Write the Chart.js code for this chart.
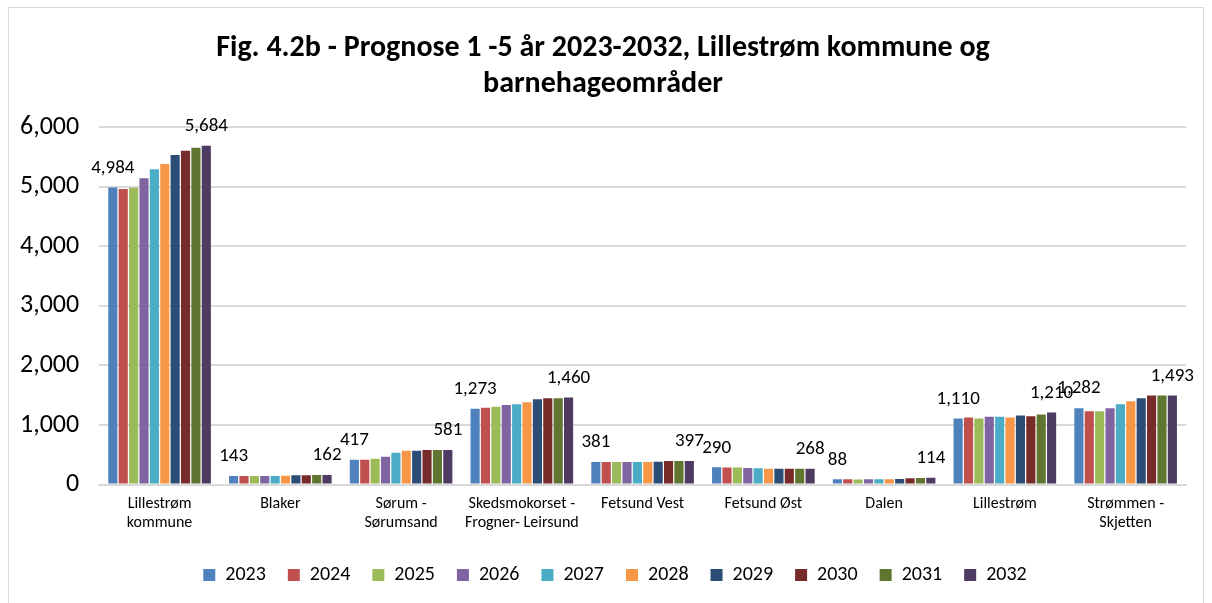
<!DOCTYPE html>
<html>
<head>
<meta charset="utf-8">
<script src="https://cdn.jsdelivr.net/npm/chart.js@4.4.0/dist/chart.umd.min.js"></script>
<style>
  html, body { margin: 0; padding: 0; background: #fff; }
  #ramme { position: absolute; left: 8px; top: 7px; width: 1196px; height: 610px; border: 1px solid #d9d9d9; box-sizing: border-box; }
  #boks { position: absolute; left: 0; top: 0; width: 1212px; height: 603px; }
</style>
</head>
<body>
<div id="ramme"></div>
<div id="boks"><canvas id="graf"></canvas></div>
<script>
// kategorier og år
const omrader = [
  ["Lillestrøm", "kommune"], "Blaker", ["Sørum -", "Sørumsand"],
  ["Skedsmokorset -", "Frogner- Leirsund"], "Fetsund Vest", "Fetsund Øst",
  "Dalen", "Lillestrøm", ["Strømmen -", "Skjetten"]
];
const aar = ["2023", "2024", "2025", "2026", "2027", "2028", "2029", "2030", "2031", "2032"];
const yTicks = [0, 1000, 2000, 3000, 4000, 5000, 6000];

// verdier per område, ett tall per år (2023..2032)
const lillestromKommune = [4984, 4960, 4980, 5140, 5290, 5380, 5530, 5600, 5650, 5684];
const blaker            = [143, 143, 143, 143, 143, 150, 155, 157, 160, 162];
const sorum             = [417, 417, 434, 467, 535, 568, 568, 581, 581, 581];
const skedsmokorset     = [1273, 1290, 1305, 1335, 1350, 1380, 1430, 1450, 1450, 1460];
const fetsundVest       = [381, 381, 380, 380, 380, 381, 382, 395, 395, 397];
const fetsundOst        = [290, 289, 288, 278, 276, 268, 266, 265, 266, 268];
const dalen             = [88, 88, 87, 88, 88, 88, 92, 108, 110, 114];
const lillestrom        = [1110, 1125, 1110, 1140, 1140, 1125, 1160, 1145, 1175, 1210];
const strommen          = [1282, 1232, 1232, 1282, 1350, 1400, 1450, 1493, 1493, 1493];

const farger = ["#4F81BD", "#C0504D", "#9BBB59", "#8064A2", "#4BACC6",
                "#F79646", "#2C4D75", "#772C2A", "#5F7530", "#4D3B62"];

const rader = [lillestromKommune, blaker, sorum, skedsmokorset, fetsundVest,
               fetsundOst, dalen, lillestrom, strommen];

const FONT = "Carlito, Lato, 'Liberation Sans', sans-serif";
const tall = v => v.toLocaleString("en-US");

// datasett: ett per år
const datasett = aar.map((a, i) => ({
  label: a,
  data: rader.map(r => r[i]),
  backgroundColor: farger[i],
  borderWidth: 0,
  categoryPercentage: 0.86,
  barPercentage: 0.88
}));

// etiketter bare for første og siste år
const etiketter = {
  id: "etiketter",
  afterDatasetsDraw(chart) {
    const ctx = chart.ctx;
    ctx.save();
    ctx.font = "19px " + FONT;
    ctx.fillStyle = "#000";
    ctx.textAlign = "center";
    ctx.textBaseline = "bottom";
    [0, aar.length - 1].forEach(di => {
      const meta = chart.getDatasetMeta(di);
      meta.data.forEach((bar, j) => {
        ctx.fillText(tall(chart.data.datasets[di].data[j]), bar.x, bar.y - 10);
      });
    });
    ctx.restore();
  }
};

// flytt tittel og forklaring litt mot høyre, som i Excel-figuren
const forskyv = {
  id: "forskyv",
  afterLayout(chart) {
    if (chart.legend) { chart.legend.left += 22; chart.legend.right += 22; }
    if (chart.titleBlock) { chart.titleBlock.left += 10; chart.titleBlock.right += 10; }
  }
};

new Chart(document.getElementById("graf"), {
  type: "bar",
  data: { labels: omrader, datasets: datasett },
  plugins: [etiketter, forskyv],
  options: {
    responsive: true,
    maintainAspectRatio: false,
    animation: false,
    layout: { padding: { left: 0, right: 26, top: 14, bottom: 8 } },
    plugins: {
      title: {
        display: true,
        text: ["Fig. 4.2b - Prognose 1 -5 år 2023-2032, Lillestrøm kommune og", "barnehageområder"],
        color: "#000",
        font: { family: FONT, size: 30, weight: "bold", lineHeight: 1.2 },
        padding: { top: 16, bottom: 25 }
      },
      legend: {
        position: "bottom",
        labels: {
          color: "#000",
          font: { family: FONT, size: 20 },
          boxWidth: 12,
          boxHeight: 12,
          padding: 22
        }
      },
      tooltip: { enabled: false }
    },
    scales: {
      x: {
        grid: { display: false, drawTicks: false },
        border: { color: "#d9d9d9", width: 2 },
        ticks: {
          color: "#000",
          font: { family: FONT, size: 16, lineHeight: 1.2 },
          maxRotation: 0,
          autoSkip: false,
          padding: 10
        }
      },
      y: {
        min: 0,
        max: 6000,
        afterBuildTicks: s => { s.ticks = yTicks.map(v => ({ value: v })); },
        grid: { color: "#d9d9d9", lineWidth: 2, drawTicks: false },
        border: { display: false },
        ticks: {
          color: "#000",
          font: { family: FONT, size: 26 },
          padding: 20,
          callback: v => tall(v)
        }
      }
    }
  }
});
</script>
</body>
</html>
